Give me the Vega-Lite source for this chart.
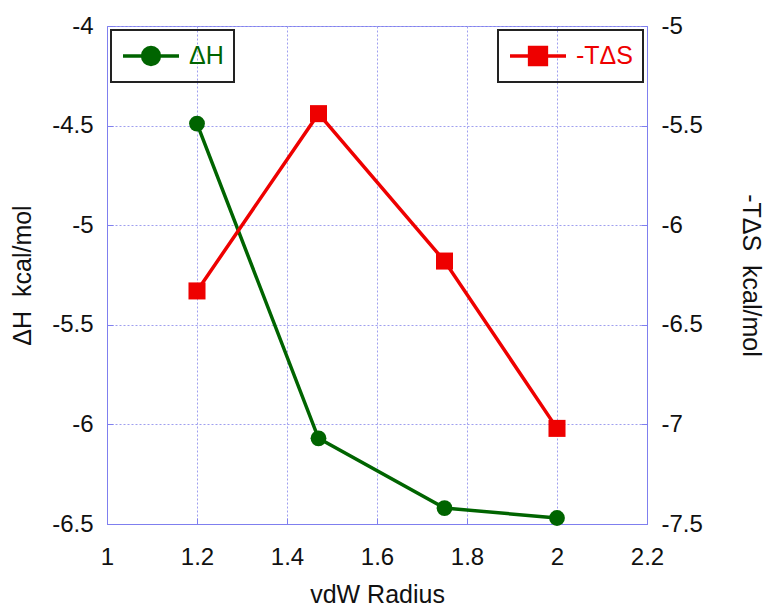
{
  "$schema": "https://vega.github.io/schema/vega-lite/v6.json",
  "width": 540,
  "height": 498,
  "autosize": {"type": "none"},
  "padding": {"left": 107, "top": 26, "right": 119, "bottom": 88},
  "background": "white",
  "config": {
    "font": "Liberation Sans",
    "view": {"stroke": "#7f7fef", "strokeWidth": 1},
    "axis": {
      "labelFontSize": 24,
      "labelColor": "#111",
      "titleFontSize": 25,
      "titleFontWeight": "normal",
      "titleColor": "#111",
      "domainColor": "#7f7fef",
      "gridColor": "#9f9fef",
      "gridDash": [2, 2],
      "gridWidth": 1,
      "tickColor": "#7f7fef",
      "tickSize": -6,
      "labelExpr": "replace(format(datum.value, '~g'), '\u2212', '-')"
    }
  },
  "data": {
    "values": [
      {"r": 1.2, "dH": -4.49, "tds": -6.33},
      {"r": 1.47, "dH": -6.07, "tds": -5.44},
      {"r": 1.75, "dH": -6.42, "tds": -6.18},
      {"r": 2.0, "dH": -6.47, "tds": -7.02}
    ]
  },
  "layer": [
    {
      "mark": {"type": "line", "strokeWidth": 3.5, "point": {"filled": true, "size": 250, "opacity": 1}},
      "encoding": {
        "x": {"field": "r", "type": "quantitative", "scale": {"domain": [1, 2.2], "nice": false, "zero": false},
          "axis": {"title": "vdW Radius", "values": [1, 1.2, 1.4, 1.6, 1.8, 2, 2.2], "labelPadding": 27, "titlePadding": 13, "labelFlush": false}},
        "y": {"field": "dH", "type": "quantitative", "scale": {"domain": [-6.5, -4], "nice": false, "zero": false},
          "axis": {"title": "ΔH\u00a0 kcal/mol", "orient": "left", "values": [-6.5, -6, -5.5, -5, -4.5, -4], "labelPadding": 20, "titlePadding": 16, "labelFlush": false}},
        "color": {"datum": "ΔH", "type": "nominal", "scale": {"domain": ["ΔH"], "range": ["#006400"]},
          "legend": {
            "title": null, "orient": "top-left", "offset": 4,
            "symbolType": "M-2,0L2,0M0.6,0A0.6,0.6,0,1,1,-0.6,0A0.6,0.6,0,1,1,0.6,0Z",
            "symbolSize": 784, "symbolStrokeWidth": 3.5, "symbolFillColor": "#006400", "symbolStrokeColor": "#006400",
            "symbolOffset": 14,
            "labelFontSize": 25, "labelColor": "#006400", "labelOffset": 22,
            "padding": 10, "strokeColor": "#222",
            "encode": {"legend": {"update": {"strokeWidth": {"value": 2}}}}
          }}
      }
    },
    {
      "mark": {"type": "line", "strokeWidth": 3.5, "point": {"filled": true, "shape": "square", "size": 290, "opacity": 1}},
      "encoding": {
        "x": {"field": "r", "type": "quantitative", "scale": {"domain": [1, 2.2], "nice": false, "zero": false}},
        "y": {"field": "tds", "type": "quantitative", "scale": {"domain": [-7.5, -5], "nice": false, "zero": false},
          "axis": {"title": "-TΔS\u00a0 kcal/mol", "orient": "right", "grid": false, "values": [-7.5, -7, -6.5, -6, -5.5, -5], "labelPadding": 20, "titlePadding": 35, "titleAngle": 90, "labelFlush": false}},
        "color": {"datum": "-TΔS", "type": "nominal", "scale": {"domain": ["-TΔS"], "range": ["#ee0000"]},
          "legend": {
            "title": null, "orient": "top-right", "offset": 4,
            "symbolType": "M-2,0L2,0M0.6,-0.6L0.6,0.6L-0.6,0.6L-0.6,-0.6Z",
            "symbolSize": 784, "symbolStrokeWidth": 3.5, "symbolFillColor": "#ee0000", "symbolStrokeColor": "#ee0000",
            "symbolOffset": 14,
            "labelFontSize": 25, "labelColor": "#ee0000", "labelOffset": 22,
            "padding": 10, "strokeColor": "#222",
            "encode": {"legend": {"update": {"strokeWidth": {"value": 2}}}}
          }}
      }
    }
  ],
  "resolve": {"scale": {"y": "independent", "color": "independent"}, "legend": {"color": "independent"}}
}
